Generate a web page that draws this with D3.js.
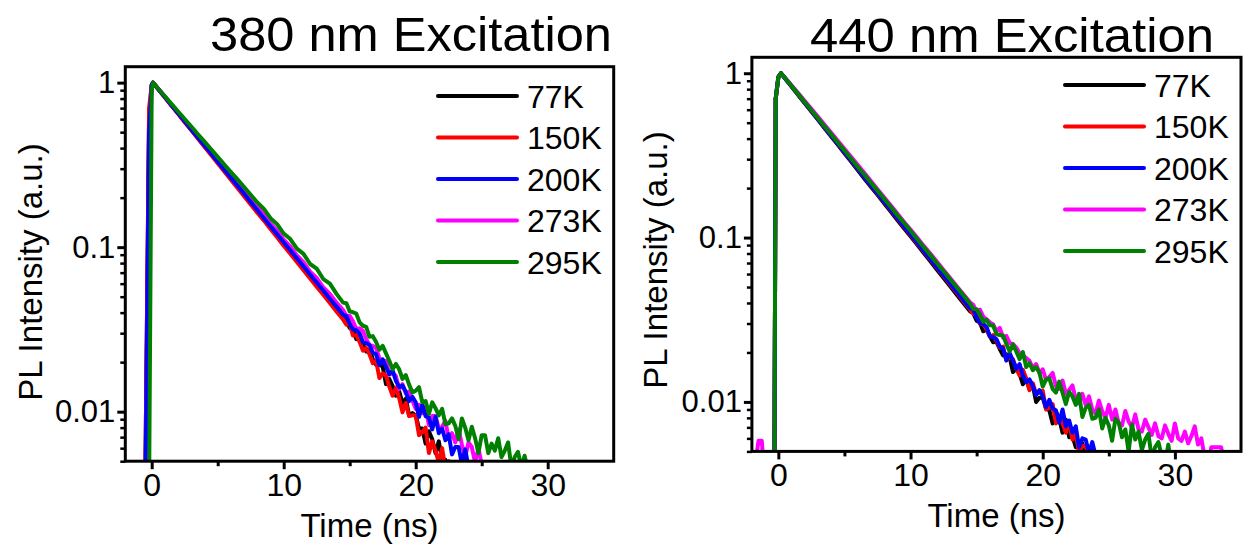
<!DOCTYPE html>
<html><head><meta charset="utf-8">
<script src="https://cdn.jsdelivr.net/npm/d3@7"></script>
<style>
body{margin:0;background:#fff}
svg{display:block}
text{font-family:"Liberation Sans",Arial,Helvetica,sans-serif;fill:#000}
</style>
</head><body>
<svg id="chart" width="1243" height="544"></svg>
<script>
// ---------------- data ----------------
const seriesNames = ["77K","150K","200K","273K","295K"];
const seriesColors = ["#000000","#ff0000","#0000ff","#ff00ff","#008000"];
const drawOrder = [0,1,3,2,4];
const xMajorTicks = [0,10,20,30];
const xMinorTicks = [5,15,25];
const yTickValues = [1,0.1,0.01];
const yTickLabels = ["1","0.1","0.01"];
const titles = ["380 nm Excitation","440 nm Excitation"];

const timeLeft = [-1,-0.5,-0.2,0,0.1,0.5,1,1.5,2,2.5,3,3.5,4,4.5,5,5.5,6,6.5,7,7.5,8,8.5,9,9.5,10,10.5,11,11.5,12,12.5,13,13.5,14,14.5,
14.75,15,15.25,15.5,15.75,16,16.25,16.5,16.75,17,17.25,17.5,17.75,18,18.25,18.5,18.75,19,19.25,19.5,19.75,20,20.25,20.5,20.75,21,21.25,21.5,21.75,22,22.25,22.5,22.75,23,23.25,23.5,23.75,24,24.25,24.5,24.75,25,25.25,25.5,25.75,26,26.25,26.5,26.75,27,27.25,27.5,27.75,28,28.25,28.5,28.75,29];

const left77K = [0.002,0.003,0.6,0.97,1.0,0.912,0.815,0.727,0.649,0.579,0.517,0.461,0.411,0.367,0.328,0.292,0.261,0.233,0.208,0.185,0.165,0.148,0.132,0.118,0.105,0.0935,0.0835,0.0745,0.0665,0.0593,0.0529,0.0472,0.0421,0.0376,
0.0363,0.0323,0.0315,0.0276,0.0286,0.0259,0.0232,0.0238,0.0209,0.0193,0.0193,0.0188,0.0147,0.0158,0.0143,0.0125,0.0133,0.0113,0.0120,0.0095,0.0098,0.0095,0.0079,0.0079,0.0064,0.0076,0.0068,0.0056,0.0066,0.0051,0.0051,0.0043,0.0040];
const left150K = [0.002,0.003,0.7,0.97,1.0,0.912,0.813,0.724,0.646,0.575,0.513,0.457,0.407,0.363,0.324,0.288,0.257,0.229,0.204,0.182,0.162,0.145,0.129,0.115,0.102,0.0912,0.0813,0.0724,0.0646,0.0575,0.0513,0.0457,0.0407,0.0363,
0.0338,0.0344,0.0290,0.0292,0.0266,0.0235,0.0244,0.0223,0.0197,0.0204,0.0160,0.0171,0.0166,0.0142,0.0125,0.0140,0.0121,0.0099,0.0113,0.0094,0.0095,0.0095,0.0072,0.0075,0.0080,0.0056,0.0066,0.0058,0.0049,0.0060,0.0045,0.0050,0.0040];
const left200K = [0.002,0.002,0.5,0.96,1.0,0.914,0.817,0.730,0.652,0.582,0.520,0.465,0.415,0.371,0.331,0.296,0.264,0.236,0.211,0.188,0.168,0.150,0.134,0.120,0.107,0.0957,0.0855,0.0764,0.0682,0.061,0.0545,0.0486,0.0435,0.0388,
0.0381,0.0342,0.0316,0.0313,0.0299,0.0265,0.0261,0.0254,0.0228,0.0224,0.0192,0.0208,0.0187,0.0169,0.0178,0.0154,0.0141,0.0144,0.0132,0.0116,0.0123,0.0114,0.0093,0.0110,0.0094,0.0092,0.0078,0.0093,0.0074,0.0079,0.0067,0.0073,0.0055,0.0061,0.0061,0.0048,0.0059,0.0046,0.0040];
const left273K = [0.002,0.002,0.3,0.95,1.0,0.916,0.82,0.734,0.657,0.589,0.527,0.472,0.423,0.378,0.339,0.303,0.272,0.243,0.218,0.195,0.175,0.158,0.139,0.126,0.111,0.101,0.089,0.081,0.071,0.065,0.057,0.052,0.046,0.0415,
0.0383,0.0383,0.0354,0.0318,0.0321,0.0310,0.0277,0.0254,0.0251,0.0244,0.0211,0.0204,0.0203,0.0168,0.0172,0.0165,0.0137,0.0147,0.0129,0.0133,0.0117,0.0104,0.0110,0.0098,0.0107,0.0083,0.0094,0.0094,0.0079,0.0081,0.0088,0.0068,0.0074,0.0065,0.0078,0.0063,0.0053,0.0065,0.0061,0.0049,0.0060,0.0048,0.0049,0.0039,0.0049,0.0040];
const left295K = [0.002,0.002,0.003,0.90,1.0,0.918,0.826,0.743,0.668,0.601,0.541,0.486,0.438,0.394,0.354,0.318,0.286,0.258,0.232,0.208,0.187,0.171,0.150,0.138,0.121,0.112,0.098,0.091,0.079,0.074,0.064,0.060,0.052,0.046,
0.0456,0.0407,0.0402,0.0394,0.0349,0.0333,0.0328,0.0285,0.0288,0.0265,0.0238,0.0251,0.0226,0.0204,0.0181,0.0195,0.0181,0.0158,0.0167,0.0146,0.0131,0.0134,0.0141,0.0114,0.0116,0.0097,0.0114,0.0105,0.0095,0.0104,0.0084,0.0085,0.0091,0.0082,0.0068,0.0091,0.0080,0.0067,0.0081,0.0069,0.0056,0.0072,0.0072,0.0056,0.0064,0.0058,0.0069,0.0053,0.0058,0.0065,0.0046,0.0053,0.0057,0.0046,0.0054,0.0044,0.0038,0.0036];

const timeRight = [-2,-1.5,-1.25,-1,-0.5,-0.3,-0.2,0,0.2,0.5,1,1.5,2,2.5,3,3.5,4,4.5,5,5.5,6,6.5,7,7.5,8,8.5,9,9.5,10,10.5,11,11.5,12,12.5,13,13.5,14,14.5,
14.75,15,15.25,15.5,15.75,16,16.25,16.5,16.75,17,17.25,17.5,17.75,18,18.25,18.5,18.75,19,19.25,19.5,19.75,20,20.25,20.5,20.75,21,21.25,21.5,21.75,22,22.25,22.5,22.75,23,23.25,23.5,23.75,24,24.25,24.5,24.75,25,25.25,25.5,25.75,26,26.25,26.5,26.75,27,27.25,27.5,27.75,28,28.25,28.5,28.75,29,29.25,29.5,29.75,30,30.25,30.5,30.75,31,31.25,31.5,31.75,32,32.25,32.5,32.75,33,33.25,33.5,33.75,34];

const right77K = [0.002,0.002,0.002,0.002,0.002,0.003,0.7,0.94,1.0,0.932,0.830,0.738,0.657,0.585,0.521,0.463,0.412,0.367,0.326,0.29,0.258,0.229,0.204,0.182,0.162,0.144,0.128,0.114,0.102,0.0906,0.0806,0.0717,0.0638,0.0568,0.0505,0.0449,0.0400,0.0356,
0.0346,0.0312,0.0304,0.0269,0.0277,0.0251,0.0231,0.0232,0.0210,0.0192,0.0195,0.0187,0.0152,0.0159,0.0148,0.0128,0.0139,0.0119,0.0126,0.0100,0.0106,0.0106,0.0091,0.0089,0.0074,0.0087,0.0079,0.0065,0.0078,0.0061,0.0062,0.0053,0.0055,0.0056,0.0044,0.0042];
const right150K = [0.002,0.002,0.002,0.002,0.002,0.003,0.7,0.95,1.0,0.933,0.831,0.740,0.660,0.588,0.524,0.467,0.416,0.371,0.330,0.294,0.262,0.233,0.208,0.185,0.165,0.147,0.131,0.116,0.104,0.0925,0.0825,0.0735,0.0655,0.0583,0.0519,0.0462,0.0411,0.0366,
0.0343,0.0342,0.0300,0.0298,0.0276,0.0250,0.0255,0.0235,0.0214,0.0217,0.0179,0.0187,0.0182,0.0160,0.0145,0.0157,0.0139,0.0118,0.0130,0.0112,0.0114,0.0117,0.0090,0.0092,0.0097,0.0074,0.0082,0.0074,0.0065,0.0075,0.0059,0.0064,0.0049,0.0054,0.0054,0.0044,0.0040];
const right200K = [0.002,0.002,0.002,0.002,0.002,0.003,0.7,0.95,1.0,0.933,0.832,0.741,0.661,0.589,0.525,0.468,0.417,0.372,0.331,0.295,0.263,0.234,0.209,0.186,0.166,0.148,0.132,0.117,0.105,0.0933,0.0832,0.0741,0.0661,0.0589,0.0525,0.0468,0.0417,0.0372,
0.0365,0.0326,0.0302,0.0298,0.0286,0.0251,0.0248,0.0241,0.0217,0.0212,0.0179,0.0198,0.0178,0.0159,0.0170,0.0145,0.0132,0.0137,0.0125,0.0110,0.0118,0.0109,0.0093,0.0103,0.0091,0.0089,0.0075,0.0090,0.0071,0.0077,0.0065,0.0071,0.0053,0.0060,0.0059,0.0049,0.0057,0.0047,0.0042];
const right273K = [0.003,0.0058,0.0058,0.003,0.003,0.004,0.7,0.94,1.0,0.94,0.845,0.758,0.678,0.607,0.543,0.486,0.434,0.388,0.347,0.31,0.277,0.248,0.221,0.197,0.176,0.157,0.140,0.125,0.112,0.100,0.089,0.080,0.0712,0.0635,0.0567,0.0506,0.0452,0.0404,
0.0390,0.0352,0.0365,0.0330,0.0318,0.0305,0.0296,0.0270,0.0282,0.0246,0.0252,0.0228,0.0225,0.0214,0.0198,0.0192,0.0185,0.0178,0.0160,0.0170,0.0150,0.0158,0.0136,0.0142,0.0150,0.0125,0.0120,0.0135,0.0112,0.0118,0.0126,0.0104,0.0098,0.0112,0.0096,0.0108,0.0090,0.0085,0.0102,0.0088,0.0080,0.0096,0.0078,0.0090,0.0074,0.0072,0.0088,0.0076,0.0070,0.0084,0.0068,0.0066,0.0078,0.0070,0.0063,0.0074,0.0062,0.0060,0.0072,0.0064,0.0058,0.0074,0.0060,0.0058,0.0066,0.0056,0.0062,0.0071,0.0055,0.0060,0.0046,0.0040,0.0053,0.0053,0.0053,0.0053,0.0040,0.0040];
const right295K = [0.002,0.002,0.002,0.002,0.002,0.003,0.7,0.95,1.0,0.935,0.835,0.746,0.667,0.596,0.532,0.475,0.425,0.379,0.339,0.303,0.270,0.242,0.216,0.193,0.172,0.154,0.137,0.123,0.110,0.098,0.0875,0.0782,0.0698,0.0624,0.0557,0.0498,0.0445,0.0397,
0.0368,0.0367,0.0342,0.0308,0.0316,0.0293,0.0292,0.0259,0.0255,0.0254,0.0225,0.0203,0.0224,0.0203,0.0182,0.0201,0.0163,0.0172,0.0156,0.0163,0.0151,0.0124,0.0137,0.0139,0.0120,0.0114,0.0133,0.0114,0.0097,0.0115,0.0108,0.0096,0.0112,0.0081,0.0092,0.0096,0.0079,0.0080,0.0090,0.0069,0.0080,0.0072,0.0058,0.0079,0.0075,0.0061,0.0068,0.0050,0.0073,0.0059,0.0066,0.0051,0.0059,0.0064,0.0045,0.0053,0.0057,0.0047,0.0042,0.0055,0.0040];

// ---------------- layout ----------------
const panels = [
  {time: timeLeft, series: [left77K,left150K,left200K,left273K,left295K], title: titles[0],
   x0:125.3, x1:613.7, y0:66.7, y1:461.2, titleX:210, titleY:51, titleLen:402,
   yLabelX:42, yLabelY:272, xLabelY:537, legX:438, legY:96},
  {time: timeRight, series: [right77K,right150K,right200K,right273K,right295K], title: titles[1],
   x0:751.9, x1:1241, y0:57.3, y1:451.4, titleX:810, titleY:52, titleLen:404,
   yLabelX:667, yLabelY:260, xLabelY:527, legX:1065, legY:85}
];
const xDomain = [-2, 35];
const yDomain = [0.005, 1.25];

const svg = d3.select("#chart");
const fontFam = '"Liberation Sans",Arial,sans-serif';

panels.forEach((p, pi) => {
  const x = d3.scaleLinear().domain(xDomain).range([p.x0, p.x1]);
  const y = d3.scaleLog().domain(yDomain).range([p.y1, p.y0]);
  const g = svg.append("g");

  const clipId = "clip" + pi;
  svg.append("clipPath").attr("id", clipId).append("rect")
    .attr("x", p.x0).attr("y", p.y0).attr("width", p.x1 - p.x0).attr("height", p.y1 - p.y0);

  const line = d3.line().x(d => x(d[0])).y(d => y(d[1]));
  const curves = g.append("g").attr("clip-path", `url(#${clipId})`);
  drawOrder.forEach(si => {
    const vals = p.series[si];
    const pts = vals.map((v, i) => [p.time[i], v]);
    curves.append("path").attr("d", line(pts))
      .attr("fill", "none").attr("stroke", seriesColors[si])
      .attr("stroke-width", 4).attr("stroke-linejoin", "round").attr("stroke-linecap", "round");
  });

  // x axis
  const gx = g.append("g").attr("transform", `translate(0,${p.y1})`)
    .call(d3.axisBottom(x).tickValues(xMajorTicks).tickSize(8).tickPadding(4).tickFormat(d3.format("d")));
  gx.select(".domain").remove();
  gx.selectAll("line").attr("stroke-width", 3);
  gx.selectAll("text").attr("font-size", 32).attr("font-family", fontFam).attr("fill", "#000");
  const gxm = g.append("g").attr("transform", `translate(0,${p.y1})`)
    .call(d3.axisBottom(x).tickValues(xMinorTicks).tickSize(5).tickFormat(""));
  gxm.select(".domain").remove();
  gxm.selectAll("line").attr("stroke-width", 3);

  // y axis
  const gy = g.append("g").attr("transform", `translate(${p.x0},0)`)
    .call(d3.axisLeft(y).tickValues(yTickValues).tickSize(8).tickPadding(2).tickFormat((d, i) => yTickLabels[i]));
  gy.select(".domain").remove();
  gy.selectAll("line").attr("stroke-width", 3);
  gy.selectAll("text").attr("font-size", 31).attr("font-family", fontFam).attr("fill", "#000");
  const minor = [];
  [0.001, 0.01, 0.1, 1].forEach(dec => { for (let k = 2; k <= 9; k++) { const v = k * dec; if (v >= yDomain[0] && v <= yDomain[1]) minor.push(v); } });
  const gym = g.append("g").attr("transform", `translate(${p.x0},0)`)
    .call(d3.axisLeft(y).tickValues(minor).tickSize(5).tickFormat(""));
  gym.select(".domain").remove();
  gym.selectAll("line").attr("stroke-width", 2.5);

  // frame
  g.append("rect").attr("x", p.x0).attr("y", p.y0).attr("width", p.x1 - p.x0).attr("height", p.y1 - p.y0)
    .attr("fill", "none").attr("stroke", "#000").attr("stroke-width", 3);

  // titles & labels
  g.append("text").attr("x", p.titleX).attr("y", p.titleY).attr("font-size", 48)
    .attr("textLength", p.titleLen).attr("lengthAdjust", "spacingAndGlyphs").text(p.title);
  g.append("text").attr("transform", `translate(${p.yLabelX},${p.yLabelY}) rotate(-90)`)
    .attr("text-anchor", "middle").attr("font-size", 33).text("PL Intensity (a.u.)");
  g.append("text").attr("x", (p.x0 + p.x1) / 2).attr("y", p.xLabelY)
    .attr("text-anchor", "middle").attr("font-size", 33).text("Time (ns)");

  // legend
  seriesNames.forEach((name, i) => {
    const ly = p.legY + i * 41.5;
    g.append("line").attr("x1", p.legX).attr("x2", p.legX + 79).attr("y1", ly).attr("y2", ly)
      .attr("stroke", seriesColors[i]).attr("stroke-width", 4).attr("stroke-linecap", "round");
    g.append("text").attr("x", p.legX + 89).attr("y", ly).attr("dy", "0.36em")
      .attr("font-size", 32).text(name);
  });
});
</script>
</body></html>
